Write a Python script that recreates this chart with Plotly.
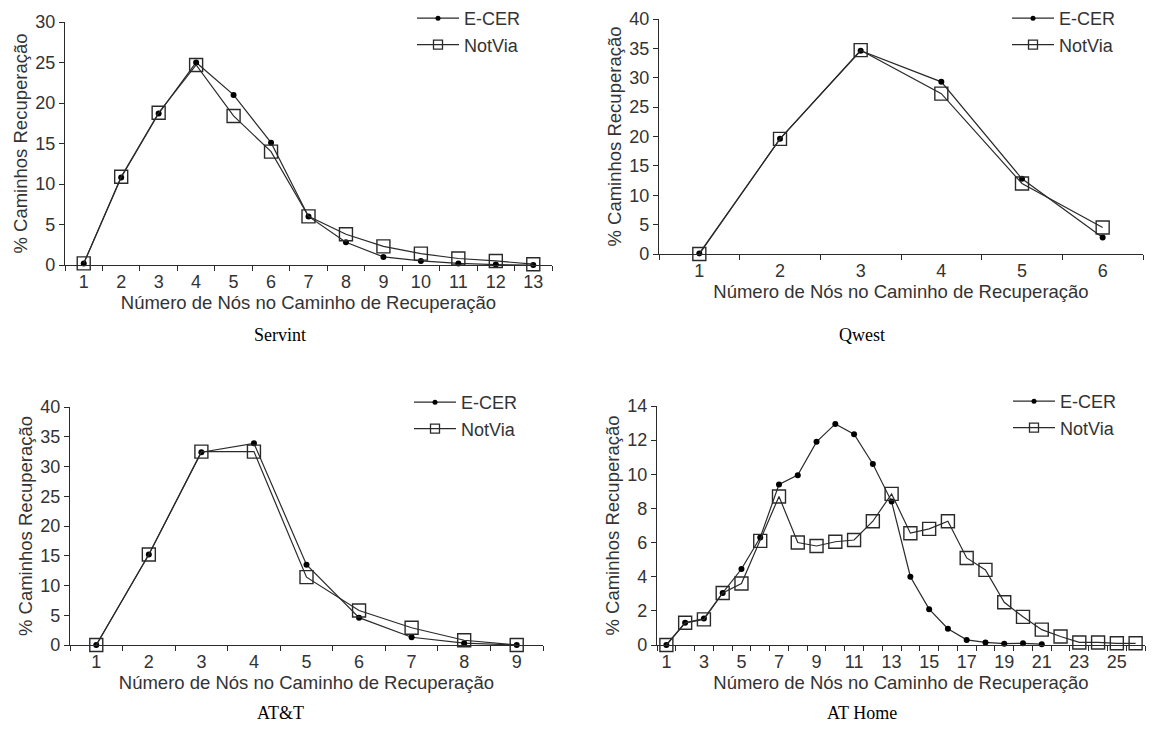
import plotly.graph_objects as go

# ---------------- data ----------------
servint_x = list(range(1, 14))
servint_ecer = [0.2, 10.8, 18.7, 25.0, 21.0, 15.1, 6.0, 2.8, 1.0, 0.5, 0.2, 0.05, 0.0]
servint_notvia = [0.2, 10.9, 18.8, 24.7, 18.4, 14.0, 6.0, 3.8, 2.3, 1.4, 0.8, 0.5, 0.1]

qwest_x = list(range(1, 7))
qwest_ecer = [0.1, 19.6, 34.6, 29.3, 12.8, 2.8]
qwest_notvia = [0.0, 19.6, 34.7, 27.3, 12.0, 4.5]

att_x = list(range(1, 10))
att_ecer = [0.0, 15.2, 32.4, 33.9, 13.5, 4.6, 1.3, 0.3, 0.0]
att_notvia = [0.0, 15.2, 32.5, 32.5, 11.4, 5.8, 2.9, 0.8, 0.0]

athome_x = list(range(1, 27))
athome_ecer = [0.0, 1.3, 1.55, 3.05, 4.45, 6.3, 9.4, 9.95, 11.9, 12.95, 12.35, 10.6,
               8.4, 4.0, 2.1, 0.95, 0.3, 0.15, 0.08, 0.1, 0.05,
               None, None, None, None, None]
athome_notvia = [0.0, 1.3, 1.5, 3.05, 3.6, 6.1, 8.7, 6.0, 5.8, 6.05, 6.15, 7.25,
                 8.85, 6.55, 6.8, 7.25, 5.1, 4.4, 2.5, 1.65, 0.9, 0.5, 0.15, 0.15, 0.1, 0.1]

series_names = ["E-CER", "NotVia"]
y_title = "% Caminhos Recuperação"
x_title = "Número de Nós no Caminho de Recuperação"
captions = ["Servint", "Qwest", "AT&T", "AT Home"]

panels = [
    dict(x=servint_x, ecer=servint_ecer, notvia=servint_notvia, ymax=30, ydt=5, xdt=1),
    dict(x=qwest_x, ecer=qwest_ecer, notvia=qwest_notvia, ymax=40, ydt=5, xdt=1),
    dict(x=att_x, ecer=att_ecer, notvia=att_notvia, ymax=40, ydt=5, xdt=1),
    dict(x=athome_x, ecer=athome_ecer, notvia=athome_notvia, ymax=14, ydt=2, xdt=2),
]

# ---------------- layout geometry (page pixels) ----------------
OFF = 8                      # default body margin of the html page
W, H = 1156 - OFF, 754 - OFF  # figure size so the page is exactly 1156x754


def px(x):
    return (x - OFF) / W


def py(y):
    return 1 - (y - OFF) / H


boxes = [  # left, right, top, bottom of plot area in page pixels
    (65, 552, 22, 265),
    (659, 1143, 19, 254),
    (70, 543, 407, 645),
    (657, 1145, 406, 645),
]
ITEMW = 42
legend_pos = [(412, 0), (1007, 0), (409, 384), (1008, 383)]
caption_pos = [(280, 335), (862, 335), (280, 713), (862, 713)]

SANS = "Liberation Sans, Arial, sans-serif"
SERIF = "Liberation Serif, Times New Roman, serif"
LINE = "#2a2a2a"
TXT = "#333333"

fig = go.Figure()
layout = dict(
    width=W, height=H,
    margin=dict(l=0, r=0, t=0, b=0, autoexpand=False),
    paper_bgcolor="white", plot_bgcolor="white",
    showlegend=True,
    annotations=[],
)

for i, p in enumerate(panels):
    k = "" if i == 0 else str(i + 1)
    xa, ya = "x" + k, "y" + k
    lg = "legend" + k
    l, r, t, b = boxes[i]
    # data traces
    fig.add_trace(go.Scatter(
        x=p["x"], y=p["ecer"], xaxis=xa, yaxis=ya, mode="lines+markers",
        name=series_names[0], showlegend=False, cliponaxis=False,
        line=dict(color=LINE, width=1.2),
        marker=dict(symbol="circle", size=6, color="black"),
    ))
    fig.add_trace(go.Scatter(
        x=p["x"], y=p["notvia"], xaxis=xa, yaxis=ya, mode="lines+markers",
        name=series_names[1], showlegend=False, cliponaxis=False,
        line=dict(color=LINE, width=1.2),
        marker=dict(symbol="square-open", size=13, color=LINE, line=dict(width=1.4, color=LINE)),
    ))
    # legend entries
    fig.add_trace(go.Scatter(
        x=[None], y=[None], xaxis=xa, yaxis=ya, mode="lines+markers",
        name=series_names[0], legend=lg,
        line=dict(color=LINE, width=1.2),
        marker=dict(symbol="circle", size=5, color="black"),
    ))
    fig.add_trace(go.Scatter(
        x=[None], y=[None], xaxis=xa, yaxis=ya, mode="lines+markers",
        name=series_names[1], legend=lg,
        line=dict(color=LINE, width=1.2),
        marker=dict(symbol="square-open", size=9, color=LINE, line=dict(width=1.3, color=LINE)),
    ))
    n = len(p["x"])
    layout["xaxis" + k] = dict(
        domain=[px(l), px(r)], anchor=ya, range=[0.5, n + 0.5],
        showline=True, linecolor=LINE, linewidth=1.2, showgrid=False, zeroline=False,
        tickmode="linear", tick0=1, dtick=p["xdt"], ticks="", ticklen=0,
        minor=dict(ticks="outside", tick0=0.5, dtick=1, ticklen=5, tickcolor=LINE, tickwidth=1.2, showgrid=False),
        tickfont=dict(family=SANS, size=18, color=TXT),
        title=dict(text=x_title, font=dict(family=SANS, size=18.5, color=TXT), standoff=0),
        automargin=False,
        fixedrange=True,
    )
    layout["yaxis" + k] = dict(
        domain=[py(b), py(t)], anchor=xa, range=[0, p["ymax"]],
        showline=True, linecolor=LINE, linewidth=1.2, showgrid=False, zeroline=False,
        tickmode="linear", tick0=0, dtick=p["ydt"], ticks="outside", ticklen=5,
        tickcolor=LINE, tickwidth=1.2,
        tickfont=dict(family=SANS, size=18, color=TXT),
        title=dict(text=y_title, font=dict(family=SANS, size=18.5, color=TXT), standoff=2),
        automargin=False,
        fixedrange=True,
    )
    lx, ly = legend_pos[i]
    layout[lg] = dict(
        x=px(lx), y=py(ly), xanchor="left", yanchor="top",
        xref="paper", yref="paper",
        bgcolor="rgba(0,0,0,0)", borderwidth=0,
        font=dict(family=SANS, size=18, color=TXT),
        tracegroupgap=0, itemwidth=ITEMW,
    )
    cx, cy = caption_pos[i]
    layout["annotations"].append(dict(
        text=captions[i], x=px(cx), y=py(cy), xref="paper", yref="paper",
        xanchor="center", yanchor="middle", showarrow=False,
        font=dict(family=SERIF, size=18, color="black"),
    ))

fig.update_layout(**layout)
fig.write_html("out.html")
